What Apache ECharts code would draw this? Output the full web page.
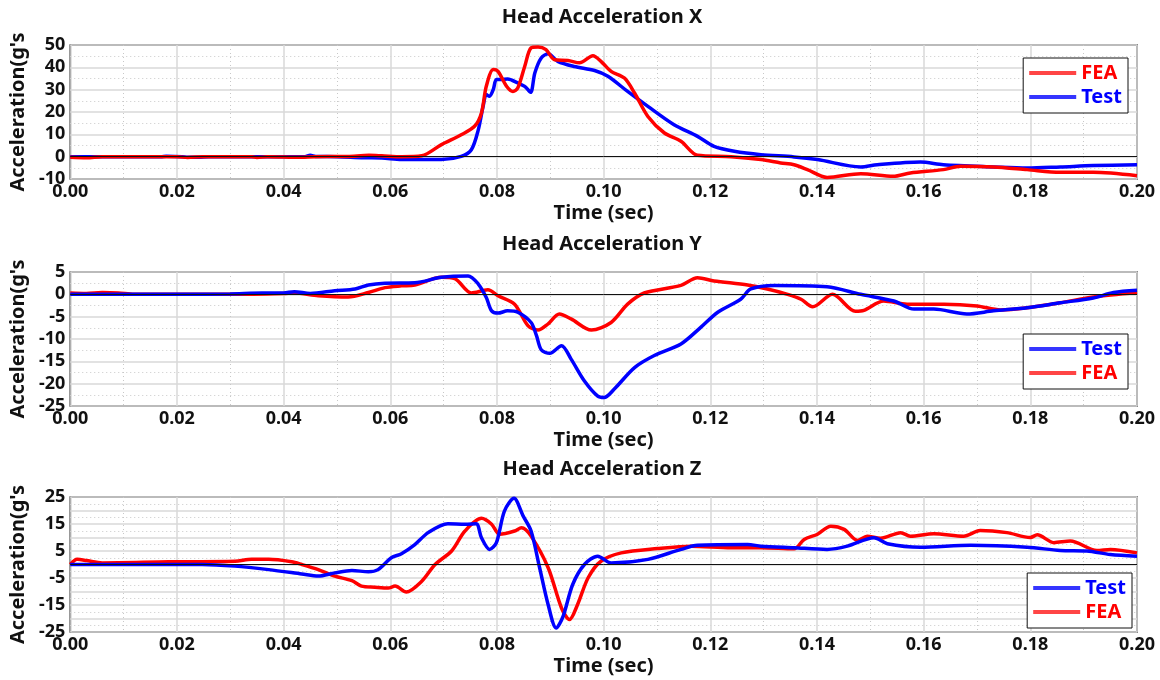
<!DOCTYPE html>
<html lang="en">
	<head>
		<meta charset="UTF-8">
		<title>Head Acceleration</title>
		<script src="https://cdn.jsdelivr.net/npm/echarts@6/dist/echarts.min.js"></script>
		<style>
			html, body { margin: 0; padding: 0; background: #fff; }
			#head-acc { width: 1160px; height: 680px; }
		</style>
	</head>
	<body>
		<div id="head-acc"></div>
		<script type="text/javascript">
			// Head Acceleration X
			var xTimeFea = [0, 0.003, 0.006, 0.02, 0.022, 0.025, 0.034, 0.035, 0.037, 0.043, 0.046, 0.052, 0.056, 0.0584, 0.0621, 0.0659, 0.0696, 0.0733, 0.0758, 0.0771, 0.078, 0.0793, 0.0802, 0.0818, 0.083, 0.0839, 0.0852, 0.0864, 0.0877, 0.0892, 0.0908, 0.0933, 0.0955, 0.098, 0.0995, 0.1014, 0.1039, 0.1058, 0.1083, 0.1114, 0.1145, 0.1176, 0.1239, 0.1295, 0.1332, 0.1357, 0.1382, 0.1419, 0.1482, 0.1543, 0.1575, 0.1637, 0.1669, 0.1731, 0.1794, 0.1856, 0.1918, 0.2];
			var xAccFea = [-0.3, -0.5, 0, 0, -0.4, 0, 0, -0.4, 0, -0.3, 0, 0.1, 0.6, 0.4, 0, 0.4, 5.4, 9.8, 13.6, 19.6, 31.5, 39, 38.2, 31.5, 29.2, 30.7, 40.4, 48.7, 49.1, 47.9, 43.4, 43.1, 42, 45.2, 42.7, 38.2, 35.2, 28.5, 18, 10.6, 6.9, 0.6, 0, -1.3, -2.8, -3.6, -5.8, -9.3, -7.6, -8.8, -7.3, -5.8, -4.3, -4.6, -5.8, -7, -7, -8.5];
			var xTimeTest = [0, 0.017, 0.018, 0.021, 0.022, 0.024, 0.026, 0.044, 0.045, 0.046, 0.05, 0.055, 0.0584, 0.0621, 0.0696, 0.0733, 0.0752, 0.0765, 0.0774, 0.078, 0.0786, 0.0793, 0.0799, 0.0808, 0.082, 0.0839, 0.0852, 0.0863, 0.0871, 0.0883, 0.0896, 0.0914, 0.0945, 0.0983, 0.1008, 0.1045, 0.1083, 0.1132, 0.1176, 0.1207, 0.1245, 0.1295, 0.1357, 0.1401, 0.1482, 0.1513, 0.1594, 0.1637, 0.1731, 0.1794, 0.1856, 0.1918, 0.2];
			var xAccTest = [0, 0, 0.2, 0, -0.3, -0.3, 0, 0, 0.6, 0.1, 0, -0.5, -0.6, -1.3, -1.3, 0.1, 3.1, 12, 22.5, 27.8, 27, 30, 34.5, 34.5, 34.8, 33, 31.5, 28.8, 37.5, 44.2, 46.1, 42.7, 40.4, 38.6, 36, 29.2, 22.5, 14.3, 9.1, 4.6, 2.4, 0.9, -0.1, -1.3, -4.6, -3.6, -2.4, -3.6, -4.6, -5.1, -4.6, -4, -3.6];

			// Head Acceleration Y
			var yTimeFea = [0, 0.003, 0.006, 0.009, 0.012, 0.03, 0.04, 0.042, 0.0465, 0.0521, 0.0559, 0.059, 0.0621, 0.0646, 0.0696, 0.0721, 0.0752, 0.0783, 0.0802, 0.0833, 0.0858, 0.0877, 0.0896, 0.0917, 0.0939, 0.0977, 0.1014, 0.1045, 0.1076, 0.1145, 0.1176, 0.1207, 0.127, 0.1307, 0.1345, 0.137, 0.1392, 0.1429, 0.1472, 0.1488, 0.1525, 0.1569, 0.1638, 0.17, 0.1744, 0.1794, 0.1856, 0.1918, 0.2];
			var yAccFea = [0.3, 0.2, 0.4, 0.3, 0, 0, 0.2, 0.3, -0.3, -0.6, 0.4, 1.5, 1.9, 2.1, 3.8, 3.5, 0.3, 1, -0.3, -2.2, -7, -8, -6.6, -4.4, -5.5, -8, -6.3, -2.2, 0.3, 2, 3.7, 3, 2.1, 1.2, 0, -1.1, -2.8, 0, -3.8, -3.6, -1.5, -2.2, -2.2, -2.6, -3.5, -3, -1.9, -0.6, 0.4];
			var yTimeTest = [0, 0.02, 0.03, 0.036, 0.04, 0.042, 0.045, 0.0496, 0.0534, 0.0559, 0.059, 0.0646, 0.0696, 0.0746, 0.0765, 0.078, 0.079, 0.0802, 0.082, 0.0839, 0.0864, 0.0874, 0.0883, 0.0899, 0.0921, 0.0939, 0.0964, 0.0989, 0.1001, 0.102, 0.1058, 0.1095, 0.1145, 0.1182, 0.1214, 0.1257, 0.1276, 0.132, 0.1419, 0.1482, 0.1544, 0.1582, 0.1619, 0.1681, 0.1731, 0.1794, 0.1856, 0.1918, 0.1956, 0.2];
			var yAccTest = [0, 0, 0.1, 0.3, 0.3, 0.6, 0.2, 0.8, 1.2, 2.1, 2.5, 2.6, 3.8, 4.1, 2.3, -0.7, -3.7, -4.2, -3.7, -4, -6.3, -9.2, -12.4, -13.2, -11.5, -14.5, -19.4, -22.8, -23.1, -21.2, -16.4, -13.7, -11.1, -7.4, -4, -1.1, 1.2, 2, 1.7, 0, -1.5, -3.3, -3.3, -4.4, -3.7, -3, -1.9, -0.8, 0.4, 0.9];

			// Head Acceleration Z
			var zTimeFea = [0, 0.0013, 0.003, 0.006, 0.0185, 0.0309, 0.034, 0.0372, 0.0415, 0.0434, 0.0465, 0.0496, 0.0528, 0.0546, 0.0571, 0.0596, 0.0609, 0.063, 0.0659, 0.0684, 0.0715, 0.074, 0.0771, 0.079, 0.0805, 0.0833, 0.0846, 0.0864, 0.0896, 0.0921, 0.0936, 0.0951, 0.0971, 0.0995, 0.1033, 0.1101, 0.1164, 0.1239, 0.1295, 0.1357, 0.1376, 0.1401, 0.1426, 0.1451, 0.1476, 0.1494, 0.1519, 0.1557, 0.1575, 0.1619, 0.1675, 0.1706, 0.1756, 0.18, 0.1813, 0.1844, 0.1875, 0.1925, 0.195, 0.2];
			var zAccFea = [0, 1.9, 1.5, 0.6, 1, 1.2, 1.9, 1.9, 1, 0, -1.9, -4.3, -6, -8, -8.4, -8.7, -8, -10.2, -6.2, 0, 5, 12.4, 17.1, 14.9, 11.2, 12.4, 13.6, 10.5, -1.2, -16.1, -20.4, -14.9, -4.9, 1.2, 4.3, 5.9, 6.8, 6.2, 6.2, 5.8, 9.3, 11.2, 14.2, 13, 8.9, 10.5, 9.7, 11.8, 10.5, 11.4, 10.5, 12.6, 11.8, 10, 11, 8.1, 8.7, 5.2, 5.6, 4.3];
			var zTimeTest = [0, 0.0247, 0.0309, 0.0372, 0.0434, 0.0465, 0.0496, 0.0528, 0.0559, 0.0577, 0.0602, 0.0621, 0.0646, 0.0671, 0.0708, 0.074, 0.0761, 0.0771, 0.0786, 0.0799, 0.0814, 0.0832, 0.0849, 0.0864, 0.088, 0.0896, 0.0911, 0.0924, 0.0942, 0.0964, 0.0989, 0.1014, 0.1083, 0.1145, 0.1176, 0.127, 0.1295, 0.1357, 0.1419, 0.1457, 0.1507, 0.1532, 0.1594, 0.1688, 0.1794, 0.1856, 0.1906, 0.195, 0.2];
			var zAccTest = [0, 0, -0.6, -1.9, -3.5, -4.3, -3.1, -2.2, -2.7, -1.9, 2.5, 4, 7.4, 11.8, 15.1, 14.9, 15.1, 9.9, 5.6, 8.1, 19.8, 24.5, 18, 12.4, -1.2, -14.9, -23.5, -19.2, -7.4, 0, 3.1, 0.6, 1.9, 5.6, 7.1, 7.4, 6.8, 6.2, 5.6, 6.8, 9.9, 7.7, 6.4, 7.1, 6.4, 5.2, 5, 3.7, 3.1];

			var titles = ['Head Acceleration X', 'Head Acceleration Y', 'Head Acceleration Z'];
			var yMin = [-10, -25, -25];
			var yMax = [50, 5, 25];
			var yStep = [10, 5, 5];

			var RED = '#ff0000', BLUE = '#0000ff';
			var FONT = 'Noto Sans';
			var gridTop = [45, 272, 497];
			var gridH = [134, 134, 135];
			var legendTop = [58, 334, 573];
			var legendRight = [32, 32, 28];
			var legendOrder = [['FEA', 'Test'], ['Test', 'FEA'], ['Test', 'FEA']];

			function pairs(t, a) {
				return t.map(function (v, i) { return [v, a[i]]; });
			}

			var dom = document.getElementById('head-acc');
			var myChart = echarts.init(dom, null, { renderer: 'canvas' });

			var option = {
				backgroundColor: '#fff',
				animation: false,
				textStyle: { fontFamily: FONT },
				title: [], legend: [], grid: [], xAxis: [], yAxis: [], series: []
			};

			var curves = [
				[pairs(xTimeFea, xAccFea), pairs(xTimeTest, xAccTest)],
				[pairs(yTimeFea, yAccFea), pairs(yTimeTest, yAccTest)],
				[pairs(zTimeFea, zAccFea), pairs(zTimeTest, zAccTest)]
			];

			for (var p = 0; p < 3; p++) {
				option.title.push({
					text: titles[p], left: 602, textAlign: 'center', top: gridTop[p] - 38, padding: 0,
					textStyle: { fontSize: 20, fontWeight: 'bold', color: '#111', fontFamily: FONT }
				});
				option.grid.push({
					left: 68, width: 1069, top: gridTop[p], height: gridH[p],
					show: true, borderColor: '#333', borderWidth: 1.5, backgroundColor: '#fff'
				});
				option.xAxis.push({
					type: 'value', gridIndex: p, min: 0, max: 0.2, interval: 0.02,
					name: 'Time (sec)', nameLocation: 'middle', nameGap: 24,
					nameTextStyle: { fontSize: 20, fontWeight: 'bold', color: '#111', fontFamily: FONT },
					axisLine: { show: false }, axisTick: { show: false },
					axisLabel: { fontSize: 18, fontWeight: 'bold', color: '#111', margin: 4, fontFamily: FONT,
						formatter: function (v) { return v.toFixed(2); } },
					splitLine: { show: true, lineStyle: { color: '#d9d9d9', width: 1.5 } },
					minorTick: { show: false, splitNumber: 2 },
					minorSplitLine: { show: true, lineStyle: { color: '#c8c8c8', width: 1, type: [1, 3] } }
				});
				option.yAxis.push({
					type: 'value', gridIndex: p, min: yMin[p], max: yMax[p], interval: yStep[p],
					name: "Acceleration(g's", nameLocation: 'middle', nameRotate: 90, nameGap: 34,
					nameTextStyle: { fontSize: 20, fontWeight: 'bold', color: '#111', fontFamily: FONT },
					axisLine: { show: false }, axisTick: { show: false },
					axisLabel: { fontSize: 18, fontWeight: 'bold', color: '#111', margin: 5, fontFamily: FONT,
						formatter: (function (pi) {
							return function (v) {
								if (pi === 2 && Math.round(v + 25) % 10 !== 0) return '';
								return String(v);
							};
						})(p) },
					splitLine: { show: true, lineStyle: { color: '#d9d9d9', width: 1.5 } },
					minorTick: { show: false, splitNumber: 2 },
					minorSplitLine: { show: true, lineStyle: { color: '#c8c8c8', width: 1, type: [1, 3] } }
				});
				option.legend.push({
					orient: 'vertical', right: legendRight[p], top: legendTop[p],
					backgroundColor: '#fff', borderColor: '#111', borderWidth: 1, borderRadius: 0,
					padding: [5, 6, 6, 6], itemGap: 4, itemWidth: 47, itemHeight: 4, icon: 'rect',
					textStyle: { fontSize: 20, fontWeight: 'bold', fontFamily: FONT, lineHeight: 20 },
					data: legendOrder[p].map(function (n) {
						var c = n === 'FEA' ? RED : BLUE;
						return { name: n, itemStyle: { color: n === 'FEA' ? '#ff4545' : '#3535ff' }, textStyle: { color: c } };
					})
				});
				// zero line and both curves
				option.series.push({
					name: 'FEA', type: 'line', xAxisIndex: p, yAxisIndex: p,
					data: curves[p][0], showSymbol: false, smooth: 0.3,
					lineStyle: { color: RED, width: 3.5 }, itemStyle: { color: RED }, z: 3,
					markLine: { silent: true, symbol: 'none', label: { show: false },
						lineStyle: { color: '#111', width: 1, type: 'solid' }, data: [{ yAxis: 0 }] }
				});
				option.series.push({
					name: 'Test', type: 'line', xAxisIndex: p, yAxisIndex: p,
					data: curves[p][1], showSymbol: false, smooth: 0.3,
					lineStyle: { color: BLUE, width: 3.5 }, itemStyle: { color: BLUE }, z: p === 0 ? 2 : 4
				});
			}

			myChart.setOption(option, true);
		</script>
	</body>
</html>
